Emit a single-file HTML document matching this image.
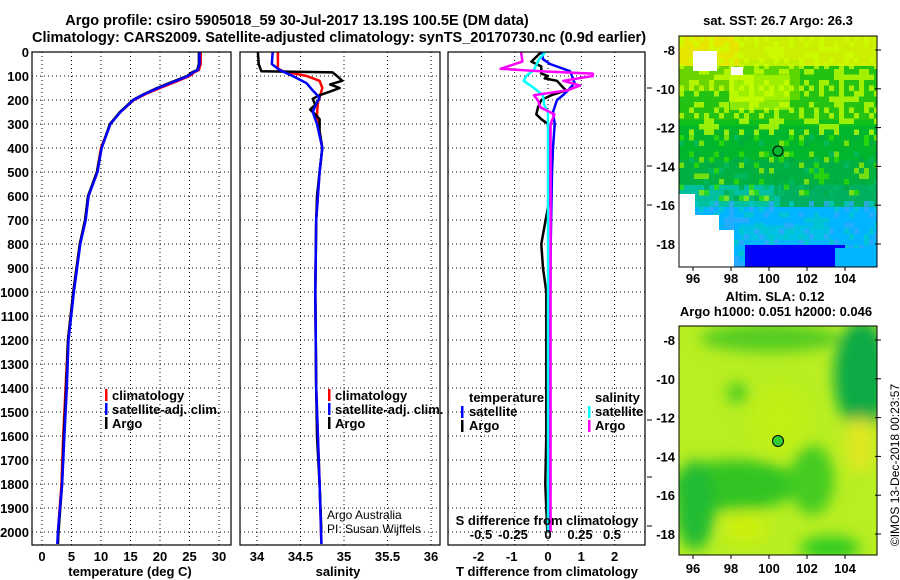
<!DOCTYPE html>
<html><head><meta charset="utf-8"><style>
body{margin:0;background:#fff;}
svg{display:block;font-family:"Liberation Sans",sans-serif;}
.b{font-weight:bold;font-size:13px;}
.t{font-weight:bold;font-size:14.5px;}
</style></head><body>
<svg id="s" width="900" height="580" viewBox="0 0 900 580">
<defs><filter id="bl"><feGaussianBlur stdDeviation="7"/></filter>
<clipPath id="c1"><rect x="679" y="36" width="198" height="231"/></clipPath>
<clipPath id="c2"><rect x="679" y="326" width="198" height="229"/></clipPath></defs>
<text class="t" x="297" y="25" text-anchor="middle">Argo profile: csiro 5905018_59 30-Jul-2017 13.19S 100.5E (DM data)</text>
<text class="t" x="339" y="42" text-anchor="middle">Climatology: CARS2009. Satellite-adjusted climatology: synTS_20170730.nc (0.9d earlier)</text>
<g id="grid"></g>
<g id="lines"></g>
<g id="ax"></g>
<g class="b">
<rect x="105" y="389" width="2.5" height="12" fill="red"/><text x="112" y="400">climatology</text>
<rect x="105" y="403" width="2.5" height="12" fill="blue"/><text x="112" y="414">satellite-adj. clim.</text>
<rect x="105" y="417" width="2.5" height="12" fill="black"/><text x="112" y="428">Argo</text></g>
<g class="b">
<rect x="328" y="389" width="2.5" height="12" fill="red"/><text x="335" y="400">climatology</text>
<rect x="328" y="403" width="2.5" height="12" fill="blue"/><text x="335" y="414">satellite-adj. clim.</text>
<rect x="328" y="417" width="2.5" height="12" fill="black"/><text x="335" y="428">Argo</text></g>
<g class="b">
<text x="469" y="402">temperature</text><text x="595" y="402">salinity</text>
<rect x="461" y="406" width="2.5" height="12" fill="blue"/><text x="469" y="416">satellite</text>
<rect x="461" y="420" width="2.5" height="12" fill="black"/><text x="469" y="430">Argo</text>
<rect x="588" y="406" width="2.5" height="12" fill="cyan"/><text x="595" y="416">satellite</text>
<rect x="588" y="420" width="2.5" height="12" fill="magenta"/><text x="595" y="430">Argo</text></g>
<text x="327" y="519" font-size="12">Argo Australia</text>
<text x="327" y="533" font-size="12">PI: Susan Wijffels</text>
<text class="b" x="547" y="525" text-anchor="middle">S difference from climatology</text>
<text class="b" x="778" y="25" text-anchor="middle">sat. SST: 26.7 Argo: 26.3</text>
<g clip-path="url(#c1)">
<rect x="679" y="36" width="198" height="231" fill="#00b040"/>
<rect x="679" y="36" width="198" height="30" fill="#ccee00"/>
<rect x="679" y="36" width="60" height="55" fill="#e6e600"/>
<rect x="740" y="60" width="60" height="40" fill="#bbee00"/>
<rect x="679" y="66" width="198" height="60" fill="#33cc00" opacity="0.7"/>
<rect x="730" y="75" width="60" height="35" fill="#ccff00" opacity="0.6"/>
<rect x="679" y="120" width="198" height="40" fill="#00bb22" opacity="0.6"/>
<rect x="679" y="185" width="198" height="30" fill="#00c0a0"/>
<rect x="780" y="185" width="97" height="25" fill="#00b060"/>
<rect x="679" y="207" width="198" height="60" fill="#00b4ff"/>
<rect x="740" y="225" width="90" height="15" fill="#00c8d0" opacity="0.6"/>
<g id="noise"></g>
<rect x="745" y="245" width="100" height="22" fill="#0000ff"/>
<rect x="835" y="248" width="42" height="19" fill="#00b4ff"/>
<rect x="679" y="194" width="16" height="73" fill="#fff"/>
<rect x="679" y="215" width="40" height="52" fill="#fff"/>
<rect x="679" y="230" width="55" height="37" fill="#fff"/>
<rect x="693" y="51" width="24" height="20" fill="#fff"/>
<rect x="731" y="67" width="12" height="8" fill="#fff"/>
</g>
<rect x="679" y="36" width="198" height="231" fill="none" stroke="#000"/>
<circle cx="778" cy="151" r="5" fill="none" stroke="#000"/>
<text class="b" x="775" y="301" text-anchor="middle">Altim. SLA: 0.12</text>
<text class="b" x="776" y="316" text-anchor="middle">Argo h1000: 0.051 h2000: 0.046</text>
<g clip-path="url(#c2)">
<rect x="679" y="326" width="198" height="229" fill="#b8ee22"/>
<g filter="url(#bl)">
<ellipse cx="770" cy="338" rx="70" ry="14" fill="#55cc22"/>
<ellipse cx="862" cy="375" rx="28" ry="55" fill="#11aa44"/>
<ellipse cx="735" cy="485" rx="65" ry="25" fill="#33c422"/>
<ellipse cx="695" cy="505" rx="20" ry="45" fill="#22bb33"/>
<ellipse cx="812" cy="480" rx="22" ry="35" fill="#44cc22"/>
<ellipse cx="830" cy="548" rx="30" ry="12" fill="#33cc22"/>
<ellipse cx="737" cy="393" rx="10" ry="10" fill="#44cc22"/>
<ellipse cx="860" cy="445" rx="16" ry="28" fill="#dde822"/>
<ellipse cx="745" cy="528" rx="22" ry="15" fill="#ccf011"/>
<ellipse cx="780" cy="420" rx="30" ry="35" fill="#c0f018"/>
</g></g>
<rect x="679" y="326" width="198" height="229" fill="none" stroke="#000"/>
<circle cx="778" cy="441" r="5.5" fill="#33cc33" stroke="#000"/>
<g id="maxes" class="b"></g>
<text x="896" y="465" font-size="12" text-anchor="middle" transform="rotate(-90 896 465)" dominant-baseline="middle">©IMOS 13-Dec-2018 00:23:57</text>
</svg>
<script>
// ---- data ----
const tempDepth=[0,50,75,85,100,125,150,175,200,250,300,400,500,600,700,800,1000,1200,1400,1600,1800,2000,2050];
const tempArgo=[26.6,26.6,26.3,25.4,24.6,22,19.5,17.3,15.4,13.2,11.5,10.1,9.3,7.8,7.3,6.4,5.3,4.4,4.1,3.7,3.4,2.8,2.7];
const tempClim=[26.9,26.9,26.6,25.8,25.0,22.6,20.0,17.6,15.6,13.3,11.6,10.0,9.3,7.9,7.3,6.4,5.3,4.4,4.0,3.6,3.3,2.7,2.7];
const tempSat=[26.7,26.7,26.4,25.6,24.8,22.2,19.7,17.4,15.5,13.3,11.6,10.1,9.4,7.9,7.4,6.5,5.4,4.5,4.2,3.8,3.4,2.7,2.6];
const salDepthArgo=[0,50,80,85,100,120,135,150,165,180,195,220,240,260,280,330,400,500,600,700,1000,1400,1600,1800,2000];
const salArgo=[34.01,34.02,34.05,34.87,34.92,34.98,34.84,34.95,34.84,34.72,34.64,34.67,34.61,34.67,34.72,34.72,34.75,34.72,34.69,34.68,34.67,34.68,34.69,34.72,34.74];
const salDepthClim=[0,70,80,100,120,150,190,210,260,300,400,500,700,1000,1400,1800,2050];
const salClim=[34.24,34.24,34.3,34.57,34.72,34.75,34.72,34.70,34.69,34.70,34.75,34.72,34.68,34.67,34.68,34.72,34.74];
const salDepthSat=[0,50,75,100,130,160,190,210,250,300,400,500,700,1000,1400,1800,2050];
const salSat=[34.18,34.17,34.26,34.41,34.57,34.64,34.72,34.69,34.64,34.69,34.75,34.72,34.68,34.67,34.68,34.72,34.74];
const dTSatDepth=[0,30,50,80,100,130,160,180,200,250,300,400,500,800,1200,2000];
const dTSat=[-0.18,-0.15,0.06,0.66,0.72,0.8,0.6,0.45,0.27,0.15,0.2,0.15,0.12,0.08,0.06,0.05];
const dTArgoDepth=[0,40,60,90,100,110,120,140,160,180,200,230,260,280,300,400,600,800,900,1000,1600,1800,2000];
const dTArgo=[-0.2,-0.5,-0.2,-0.2,0,-0.1,0.27,0.4,0.54,0.1,-0.2,-0.3,-0.35,-0.2,0,0.03,0.06,-0.2,-0.15,-0.05,-0.05,-0.08,-0.02];
const dSSatDepth=[0,30,75,100,120,150,180,220,250,300,600,1000,2000];
const dSSat=[-0.02,-0.07,-0.11,-0.17,-0.19,-0.11,-0.04,-0.03,0,0,0,0,0];
const dSArgoDepth=[0,40,70,80,90,100,120,140,160,180,200,230,260,300,600,1000,1500,2000];
const dSArgo=[-0.21,-0.2,-0.37,-0.06,0.35,0.35,0.12,0.25,0.15,-0.11,-0.08,-0.06,0.05,0.02,0.02,0.02,0.02,0.02];
const depthTicks=[0,100,200,300,400,500,600,700,800,900,1000,1100,1200,1300,1400,1500,1600,1700,1800,1900,2000];
const tempTicks=[0,5,10,15,20,25,30];
const salTicks=[34,34.5,35,35.5,36];
const salTickLabels=["34","34.5","35","35.5","36"];
const dTTicks=[-2,-1,0,1,2];
const dSTicks=[-0.5,-0.25,0,0.25,0.5];
const dSTickLabels=["-0.5","-0.25","0","0.25","0.5"];
const lonTicks=[96,98,100,102,104];
const latTicks=[-8,-10,-12,-14,-16,-18];
// ---- scales ----
const Y0=52,Y1=545;
const yD=d=>Y0+0.24*d;
const xT=t=>42+5.9*t;
const xS=s=>257+87*(s-34);
const xDT=v=>548+33.3*v;
const xDS=v=>548+128*v;
const lonX=l=>693+19*(l-96);
const latY1=l=>50+19.4*(-8-l);
const latY2=l=>340+19.4*(-8-l);
const NS='http://www.w3.org/2000/svg';
function mk(tag,attrs,parent){const e=document.createElementNS(NS,tag);for(const k in attrs)e.setAttribute(k,attrs[k]);parent.appendChild(e);return e;}
const grid=document.getElementById('grid'),lines=document.getElementById('lines'),ax=document.getElementById('ax'),maxes=document.getElementById('maxes');
const noise=document.getElementById('noise');
const pal=['#ccff00','#00cc00','#33dd00','#00aa44','#00bb66','#99ee00'];
for(let gx=0;gx<40;gx++)for(let gy=0;gy<42;gy++){const h=(gx*7919+gy*104729+gx*gy*31)%97;if(h%3)continue;
 const y=36+gy*5.5;const c=y<130?pal[h%3]:(y<200?pal[2+h%4]:(h%2?'#00c8c8':'#33aaff'));
 mk('rect',{x:679+gx*5,y:y,width:5,height:5.5,fill:c,opacity:0.75},noise);}
const panels=[[32,231],[240,440],[448,645]];
const dot={stroke:'#000','stroke-width':1,'stroke-dasharray':'1 3'};
panels.forEach(p=>{depthTicks.forEach(d=>{if(d===0)return;const l=mk('line',Object.assign({x1:p[0],x2:p[1],y1:yD(d),y2:yD(d)},dot),grid);

});});
function vgrid(ticks,fx){ticks.forEach(t=>{const l=mk('line',Object.assign({x1:fx(t),x2:fx(t),y1:Y0,y2:Y1},dot),grid);

});}
vgrid(tempTicks,xT);vgrid(salTicks,xS);vgrid(dTTicks,xDT);
function line(ds,vs,fx,col,name){const pts=ds.map((d,i)=>fx(vs[i]).toFixed(1)+','+yD(d).toFixed(1)).join(' ');
const e=mk('polyline',{points:pts,fill:'none',stroke:col,'stroke-width':2.5,'stroke-linejoin':'round'},lines);

}
line(tempDepth,tempClim,xT,'red','temp-climatology');
line(tempDepth,tempArgo,xT,'black','temp-argo');
line(tempDepth,tempSat,xT,'blue','temp-satellite');
line(salDepthClim,salClim,xS,'red','sal-climatology');
line(salDepthArgo,salArgo,xS,'black','sal-argo');
line(salDepthSat,salSat,xS,'blue','sal-satellite');
line(dTArgoDepth,dTArgo,xDT,'black','tdiff-argo');
line(dTSatDepth,dTSat,xDT,'blue','tdiff-satellite');
line(dSSatDepth,dSSat,xDS,'cyan','sdiff-satellite');
line(dSArgoDepth,dSArgo,xDS,'magenta','sdiff-argo');
panels.forEach(p=>{const r=mk('rect',{x:p[0],y:Y0,width:p[1]-p[0],height:Y1-Y0,fill:'none',stroke:'#000','stroke-width':1.2},ax);

});
function txt(x,y,s,anchor,parent,name,cls){const t=mk('text',{x:x,y:y,'text-anchor':anchor,class:cls||'b'},parent);t.textContent=s;

return t;}
depthTicks.forEach(d=>txt(29,yD(d)+5,String(d),'end',ax,'depth-tick-label'));
tempTicks.forEach(t=>txt(xT(t),561,String(t),'middle',ax,'temp-tick-label'));
salTicks.forEach((t,i)=>txt(xS(t),561,salTickLabels[i],'middle',ax,'sal-tick-label'));
dTTicks.forEach(t=>txt(xDT(t)-(t<0?3:0),561,String(t),'middle',ax,'tdiff-tick-label'));
dSTicks.forEach((t,i)=>txt(xDS(t)-(t<0?3:0),539,dSTickLabels[i],'middle',ax,'sdiff-tick-label'));
txt(130,576,'temperature (deg C)','middle',ax,'temp-axis-title');
txt(338,576,'salinity','middle',ax,'sal-axis-title');
txt(547,576,'T difference from climatology','middle',ax,'tdiff-axis-title');
[88,166,205,420,477,526].forEach(y=>{const l=mk('line',{x1:647,x2:652,y1:y,y2:y,stroke:'#000'},ax);

});
[[latY1,267,283],[latY2,555,573]].forEach(m=>{
 lonTicks.forEach(l=>{txt(lonX(l),m[2],String(l),'middle',maxes,'lon-tick-label');
  const a=mk('line',{x1:lonX(l),x2:lonX(l),y1:m[1],y2:m[1]+4,stroke:'#000'},maxes);
  
  });
 latTicks.forEach(l=>{txt(675,m[0](l)+5,String(l),'end',maxes,'lat-tick-label');
  const a=mk('line',{x1:875,x2:881,y1:m[0](l),y2:m[0](l),stroke:'#000'},maxes);
  
  });
});
</script>
</body></html>
